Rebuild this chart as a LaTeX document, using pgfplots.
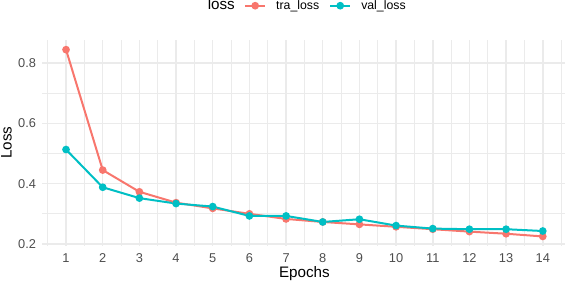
\documentclass[border=0pt]{standalone}
\usepackage{pgfplots}
\pgfplotsset{compat=1.18}
\usepackage{fontspec}
\setmainfont{Liberation Sans}
\definecolor{tracol}{HTML}{F8766D}
\definecolor{valcol}{HTML}{00BFC4}
\definecolor{gridc}{HTML}{EBEBEB}
\definecolor{tickc}{HTML}{4D4D4D}
\begin{document}
\begin{tikzpicture}
\useasboundingbox (-42.2bp,-36.5bp) rectangle (522.8bp,245.5bp);
\begin{axis}[
  at={(0,0)}, anchor=south west,
  scale only axis, width=524.4bp, height=205.5bp,
  xmin=0.35, xmax=14.65, ymin=0.195, ymax=0.876,
  axis line style={draw=none},
  major tick length=0pt, minor tick length=0pt,
  xtick={1,...,14}, ytick={0.2,0.4,0.6,0.8},
  minor xtick={0.5,1.5,...,14.5}, minor ytick={0.3,0.5,0.7},
  grid=both,
  major grid style={draw=gridc, line width=1.5bp},
  minor grid style={draw=gridc, line width=0.75bp},
  /pgf/number format/assume math mode=true,
  ticklabel style={font=\fontsize{12.8bp}{15bp}\selectfont, text=tickc},
  xticklabel style={anchor=north, inner sep=0pt, yshift=-7.5bp},
  yticklabel style={anchor=east, inner sep=0pt, xshift=-6bp,
    /pgf/number format/fixed, /pgf/number format/precision=1,
    /pgf/number format/fixed zerofill},
  xlabel={Epochs}, ylabel={Loss},
  label style={font=\fontsize{15.2bp}{18bp}\selectfont, text=black},
  xlabel style={at={(axis description cs:0.5,-0.1547)}, anchor=base, inner sep=0pt},
  ylabel style={at={(axis description cs:-0.05816,0.5)}, anchor=base, inner sep=0pt, rotate=0},
  legend columns=-1,
  legend style={at={(0.3848,1.1669)}, anchor=west, draw=none, fill=none,
    inner sep=0pt, column sep=10bp, font=\fontsize{12.3bp}{14bp}\selectfont,
    nodes={inner sep=0pt}},
  legend image code/.code={\draw[mark repeat=2, mark phase=2] plot coordinates {(0bp,0bp) (10bp,0bp) (20bp,0bp)};},
  clip=false,
]
\addplot[color=tracol, line width=2bp, mark=*, mark size=2.8bp, mark options={solid}]
  coordinates {(1,0.844) (2,0.445) (3,0.373) (4,0.337) (5,0.318) (6,0.300) (7,0.283) (8,0.273) (9,0.265) (10,0.257) (11,0.249) (12,0.241) (13,0.234) (14,0.225)};
\addlegendentry{tra\_loss}
\addplot[color=valcol, line width=2bp, mark=*, mark size=2.8bp, mark options={solid}]
  coordinates {(1,0.513) (2,0.388) (3,0.352) (4,0.334) (5,0.324) (6,0.293) (7,0.293) (8,0.273) (9,0.282) (10,0.261) (11,0.251) (12,0.249) (13,0.249) (14,0.243)};
\addlegendentry{val\_loss}
\end{axis}
\node[anchor=base east, inner sep=0pt, font=\fontsize{15.2bp}{18bp}\selectfont] at (192.8bp,235.5bp) {loss};
\end{tikzpicture}
\end{document}
